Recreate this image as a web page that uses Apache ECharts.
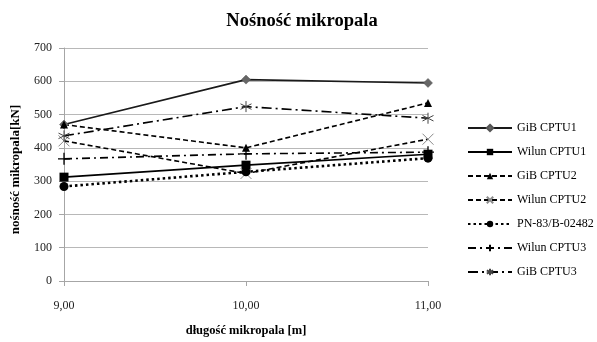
<!DOCTYPE html>
<html>
<head>
<meta charset="utf-8">
<script src="https://cdn.jsdelivr.net/npm/echarts@6/dist/echarts.min.js"></script>
<style>
  html, body { margin: 0; padding: 0; background: #fff; }
  #chart { width: 597px; height: 342px; }
</style>
</head>
<body>
<div id="chart"></div>
<script>
// Pile length categories [m]
const lengths = ['9,00', '10,00', '11,00'];

// Bearing capacity [kN] per method / sounding
const gibCptu1 = [470, 605, 595];
const wilunCptu1 = [312, 348, 381];
const gibCptu2 = [470, 400, 535];
const wilunCptu2 = [421, 323, 426];
const pnNorm = [284, 328, 369];
const wilunCptu3 = [367, 382, 387];
const gibCptu3 = [436, 524, 489];

const seriesNames = ['GiB CPTU1', 'Wilun CPTU1', 'GiB CPTU2', 'Wilun CPTU2', 'PN-83/B-02482', 'Wilun CPTU3', 'GiB CPTU3'];

const yTicks = { min: 0, max: 700, interval: 100 };

const serif = 'Liberation Serif';
const crossPath = 'path://M0,0L10,10M10,0L0,10';
const plusPath = 'path://M5,0L5,10M0,5L10,5';
const starPath = 'path://M5,0L5,10M0.7,2.5L9.3,7.5M9.3,2.5L0.7,7.5';

function line(name, data, opts) {
  return Object.assign({
    name: name,
    type: 'line',
    data: data,
    symbolSize: 8,
    showSymbol: true,
    animation: false,
    lineStyle: { color: '#000', width: 1.6, type: 'solid' },
    itemStyle: { color: '#000', borderColor: '#000', borderWidth: 0 },
    emphasis: { disabled: true }
  }, opts);
}

const chart = echarts.init(document.getElementById('chart'), null, { renderer: 'canvas' });

chart.setOption({
  backgroundColor: '#fff',
  title: {
    text: 'Nośność mikropala',
    left: 297,
    textAlign: 'center',
    top: 7,
    textStyle: { fontFamily: serif, fontSize: 18.5, fontWeight: 'bold', color: '#000' }
  },
  grid: { left: 64, right: 169, top: 48, bottom: 55, containLabel: false },
  legend: {
    orient: 'vertical',
    left: 462,
    top: 116,
    itemWidth: 44,
    itemHeight: 8,
    itemGap: 10,
    data: seriesNames,
    textStyle: { fontFamily: serif, fontSize: 12, color: '#000', lineHeight: 14 }
  },
  xAxis: {
    type: 'category',
    data: lengths,
    boundaryGap: false,
    name: 'długość mikropala [m]',
    nameLocation: 'middle',
    nameGap: 43,
    nameTextStyle: { fontFamily: serif, fontSize: 12.5, fontWeight: 'bold', color: '#000' },
    axisLine: { lineStyle: { color: '#a6a6a6', width: 1 } },
    axisTick: { show: true, alignWithLabel: true, length: 5, lineStyle: { color: '#a6a6a6' } },
    axisLabel: { fontFamily: serif, fontSize: 12, color: '#222', margin: 19 },
    splitLine: { show: false }
  },
  yAxis: {
    type: 'value',
    min: yTicks.min,
    max: yTicks.max,
    interval: yTicks.interval,
    name: 'nośność mikropala[kN]',
    nameLocation: 'middle',
    nameGap: 42,
    nameTextStyle: { fontFamily: serif, fontSize: 13, fontWeight: 'bold', color: '#000', padding: [0, 10, 0, 0] },
    axisLine: { show: true, lineStyle: { color: '#a6a6a6', width: 1 } },
    axisTick: { show: true, length: 5, lineStyle: { color: '#a6a6a6' } },
    axisLabel: { fontFamily: serif, fontSize: 12, color: '#222', margin: 12 },
    splitLine: { lineStyle: { color: '#b8b8b8', width: 1 } }
  },
  series: [
    line(seriesNames[0], gibCptu1, {
      symbol: 'diamond', symbolSize: 9,
      lineStyle: { color: '#1a1a1a', width: 1.6, type: 'solid' },
      itemStyle: { color: '#666', borderColor: '#555', borderWidth: 0.5 }
    }),
    line(seriesNames[1], wilunCptu1, {
      symbol: 'rect', symbolSize: 9
    }),
    line(seriesNames[2], gibCptu2, {
      symbol: 'triangle', symbolSize: 8,
      lineStyle: { color: '#000', width: 1.6, type: [5, 3] }
    }),
    line(seriesNames[3], wilunCptu2, {
      symbol: crossPath, symbolSize: 11,
      lineStyle: { color: '#000', width: 1.6, type: [5, 3] },
      itemStyle: { color: 'none', borderColor: '#8a8a8a', borderWidth: 1 }
    }),
    line(seriesNames[4], pnNorm, {
      symbol: 'circle', symbolSize: 9,
      lineStyle: { color: '#000', width: 2.6, type: [2.5, 3] }
    }),
    line(seriesNames[5], wilunCptu3, {
      symbol: plusPath, symbolSize: 12,
      lineStyle: { color: '#000', width: 1.6, type: [8, 4, 2, 4] },
      itemStyle: { color: 'none', borderColor: '#000', borderWidth: 1.3 }
    }),
    line(seriesNames[6], gibCptu3, {
      symbol: starPath, symbolSize: 11,
      lineStyle: { color: '#000', width: 1.6, type: [10, 4, 2, 4] },
      itemStyle: { color: 'none', borderColor: '#444', borderWidth: 1 }
    })
  ]
});
</script>
</body>
</html>
